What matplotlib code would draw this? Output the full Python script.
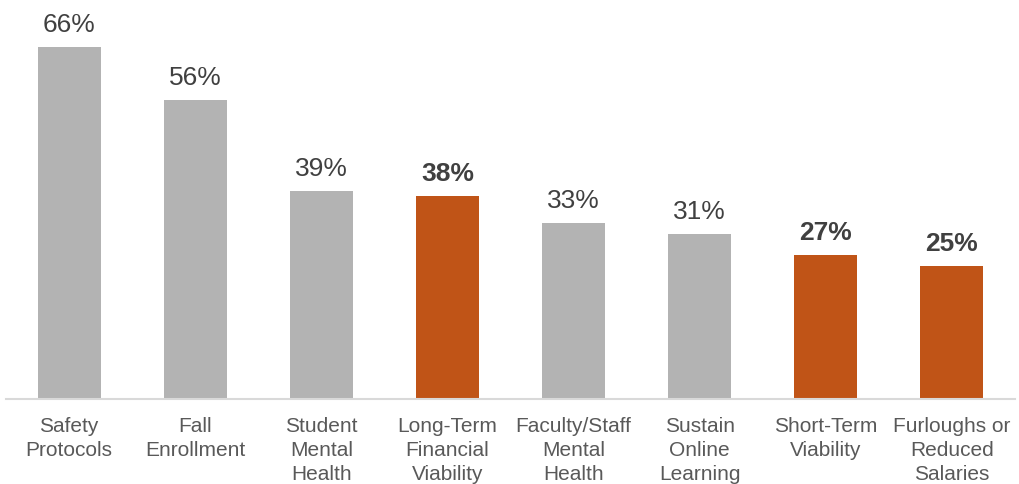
import matplotlib
matplotlib.use("Agg")
import matplotlib.pyplot as plt

plt.rcParams['font.family'] = ['Liberation Sans', 'DejaVu Sans']

categories = ["Safety\nProtocols", "Fall\nEnrollment", "Student\nMental\nHealth",
              "Long-Term\nFinancial\nViability", "Faculty/Staff\nMental\nHealth",
              "Sustain\nOnline\nLearning", "Short-Term\nViability",
              "Furloughs or\nReduced\nSalaries"]
values = [66, 56, 39, 38, 33, 31, 27, 25]
highlight = [False, False, False, True, False, False, True, True]

GRAY = "#b3b3b3"
ORANGE = "#c05417"

fig = plt.figure(figsize=(10.2, 4.85), dpi=100)
ax = fig.add_axes([6 / 1020, 85 / 485, 1009 / 1020, 400 / 485])

x = list(range(len(values)))
colors = [ORANGE if h else GRAY for h in highlight]
bars = ax.bar(x, values, width=0.5, color=colors, zorder=2)

ax.set_xlim(-0.5, len(values) - 0.5)
ax.set_ylim(0, 75)

for xi, v, h in zip(x, values, highlight):
    ax.annotate(f"{v}%", (xi, v), xytext=(0, 8), textcoords="offset points",
                ha="center", va="bottom", fontsize=19,
                fontweight="bold" if h else "normal", color="#404040")

for xi, c in zip(x, categories):
    ax.annotate(c, (xi, 0), xytext=(0, -12), textcoords="offset points",
                ha="center", va="top", fontsize=15, color="#595959",
                linespacing=1.36, annotation_clip=False)

for s in ["top", "right", "left"]:
    ax.spines[s].set_visible(False)
ax.spines["bottom"].set_color("#d9d9d9")
ax.spines["bottom"].set_linewidth(1.5)
ax.set_xticks([])
ax.set_yticks([])

fig.savefig("out.png", dpi=100)
